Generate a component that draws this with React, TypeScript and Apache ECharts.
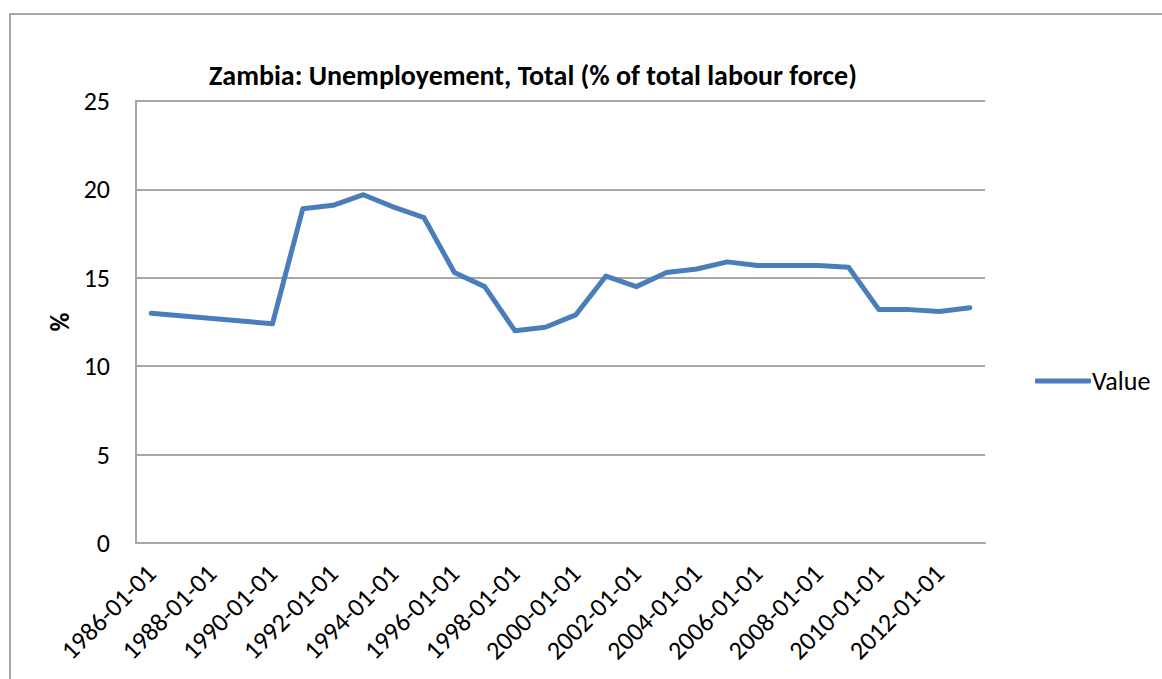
import React, { useEffect, useRef } from "react";
import * as echarts from "echarts";

const years: string[] = [
  "1986-01-01", "1987-01-01", "1988-01-01", "1989-01-01", "1990-01-01",
  "1991-01-01", "1992-01-01", "1993-01-01", "1994-01-01", "1995-01-01",
  "1996-01-01", "1997-01-01", "1998-01-01", "1999-01-01", "2000-01-01",
  "2001-01-01", "2002-01-01", "2003-01-01", "2004-01-01", "2005-01-01",
  "2006-01-01", "2007-01-01", "2008-01-01", "2009-01-01", "2010-01-01",
  "2011-01-01", "2012-01-01", "2013-01-01",
];

const values: (number | null)[] = [
  13.0, null, null, null, 12.4,
  18.9, 19.1, 19.7, 19.0, 18.4,
  15.3, 14.5, 12.0, 12.2, 12.9,
  15.1, 14.5, 15.3, 15.5, 15.9,
  15.7, 15.7, 15.7, 15.6, 13.2,
  13.2, 13.1, 13.3,
];

const seriesName = "Value";
const titleText = "Zambia: Unemployement, Total (% of total labour force)";
const yAxisName = "%";

const FONT = "Carlito, Lato, 'Liberation Sans', sans-serif";

export default function App() {
  const ref = useRef<HTMLDivElement>(null);
  useEffect(() => {
    if (!ref.current) return;
    const chart = echarts.init(ref.current, undefined, { renderer: "svg" });
    chart.setOption({
      animation: false,
      backgroundColor: "#ffffff",
      textStyle: { fontFamily: FONT },
      title: {
        text: titleText,
        left: 528,
        top: 56,
        textAlign: "center",
        textStyle: { fontFamily: FONT, fontSize: 28, fontWeight: "bold", color: "#000" },
      },
      graphic: [
        {
          type: "rect",
          shape: { x: 10, y: 14, width: 1200, height: 700 },
          style: { fill: "none", stroke: "#a6a6a6", lineWidth: 2 },
          silent: true,
        },
      ],
      legend: {
        left: 1030,
        top: 363,
        itemWidth: 56,
        itemHeight: 5,
        itemGap: 4,
        textStyle: { fontFamily: FONT, fontSize: 26, color: "#000", padding: [0, 0, 0, -4] },
        data: [{ name: seriesName, icon: "roundRect" }],
      },
      grid: { left: 136, top: 101, width: 849, height: 442, containLabel: false },
      xAxis: {
        type: "category",
        data: years,
        boundaryGap: true,
        axisLine: { lineStyle: { color: "#a6a6a6", width: 2 } },
        axisTick: { show: false },
        axisLabel: {
          interval: 1,
          rotate: 45,
          margin: 26,
          fontFamily: FONT,
          fontSize: 26,
          color: "#000",
        },
      },
      yAxis: {
        type: "value",
        min: 0,
        max: 25,
        interval: 5,
        name: yAxisName,
        nameLocation: "middle",
        nameGap: 60,
        nameRotate: 90,
        nameTextStyle: { fontFamily: FONT, fontSize: 26, fontWeight: "bold", color: "#000" },
        axisLine: { show: true, lineStyle: { color: "#a6a6a6", width: 2 } },
        axisTick: { show: false },
        axisLabel: { margin: 26, fontFamily: FONT, fontSize: 26, color: "#000" },
        splitLine: { lineStyle: { color: "#a6a6a6", width: 2 } },
      },
      series: [
        {
          name: seriesName,
          type: "line",
          data: values,
          connectNulls: true,
          symbol: "none",
          lineStyle: { color: "#4a7ebb", width: 5, cap: "round", join: "round" },
          itemStyle: { color: "#4a7ebb" },
        },
      ],
    });
    return () => chart.dispose();
  }, []);
  return (
    <div
      ref={ref}
      style={{ position: "fixed", left: 0, top: 0, width: 1162, height: 679 }}
    />
  );
}
